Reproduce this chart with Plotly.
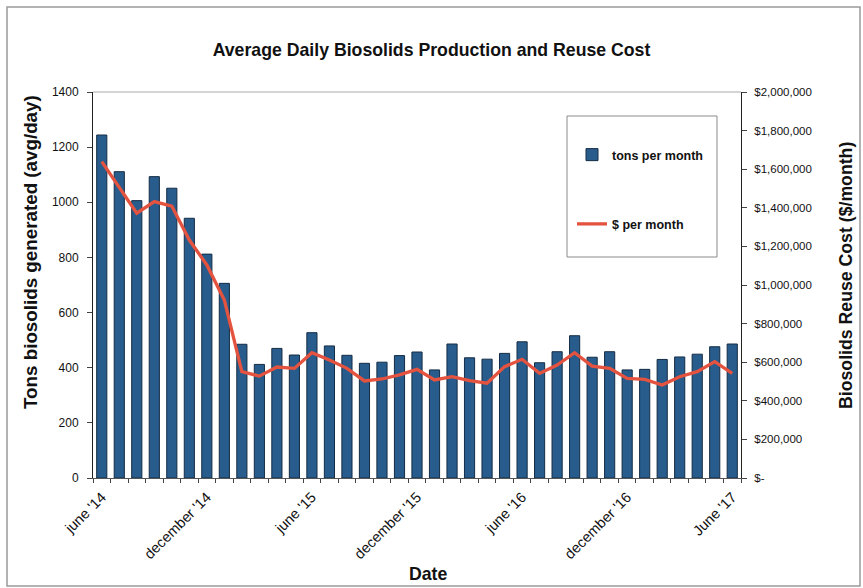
import plotly.graph_objects as go

# Monthly series, June 2014 through June 2017
months = [
    "2014-06", "2014-07", "2014-08", "2014-09", "2014-10", "2014-11", "2014-12",
    "2015-01", "2015-02", "2015-03", "2015-04", "2015-05", "2015-06", "2015-07",
    "2015-08", "2015-09", "2015-10", "2015-11", "2015-12", "2016-01", "2016-02",
    "2016-03", "2016-04", "2016-05", "2016-06", "2016-07", "2016-08", "2016-09",
    "2016-10", "2016-11", "2016-12", "2017-01", "2017-02", "2017-03", "2017-04",
    "2017-05", "2017-06",
]

tons_per_day = [
    1244, 1111, 1006, 1093, 1051, 942, 812, 706, 485, 412, 470, 446, 527, 479,
    445, 416, 420, 444, 457, 392, 486, 436, 431, 452, 494, 418, 458, 516,
    438, 458, 392, 394, 430, 439, 449, 476, 486,
]

cost_per_month = [
    1639000, 1509000, 1372000, 1432000, 1409000, 1233000, 1104000, 922000,
    551000, 528000, 575000, 568000, 649000, 611000, 568000, 503000, 513000,
    534000, 563000, 508000, 525000, 504000, 491000, 577000, 615000, 542000,
    585000, 649000, 580000, 568000, 516000, 511000, 482000, 525000, 551000,
    603000, 542000,
]

# Labelled months on the date axis
label_months = ["2014-06", "2014-12", "2015-06", "2015-12", "2016-06", "2016-12", "2017-06"]
label_text = ["june '14", "december '14", "june '15", "december '15",
              "june '16", "december '16", "June '17"]

left_ticks = [0, 200, 400, 600, 800, 1000, 1200, 1400]
right_ticks = [0, 200000, 400000, 600000, 800000, 1000000, 1200000,
               1400000, 1600000, 1800000, 2000000]

FONT = "Liberation Sans, Arial, sans-serif"
INK = "#111111"
BAR_FILL = "#285c8c"
BAR_EDGE = "#142c44"
LINE_RED = "#e4533f"

x_ticktext = [label_text[label_months.index(m)] if m in label_months else "" for m in months]
right_ticktext = ["$-" if v == 0 else f"${v:,}" for v in right_ticks]

fig = go.Figure()

fig.add_trace(go.Bar(
    x=months, y=tons_per_day, name="tons per month",
    marker=dict(color=BAR_FILL, line=dict(color=BAR_EDGE, width=1)),
    legendgroup="a",
))

fig.add_trace(go.Scatter(
    x=months, y=cost_per_month, name="$ per month", yaxis="y2",
    mode="lines", line=dict(color=LINE_RED, width=3.3),
    legendgroup="b",
))

# pixel -> paper helpers for the annotation / frame placement
PL, PR, PT, PB = 93, 741, 92, 478
def px(x):
    return (x - PL) / (PR - PL)
def py(y):
    return 1 - (y - PT) / (PB - PT)

fig.update_layout(
    width=863, height=588,
    margin=dict(l=PL, r=863 - PR, t=PT, b=588 - PB),
    paper_bgcolor="white", plot_bgcolor="white",
    font=dict(family=FONT, color=INK, size=12),
    bargap=0.42,
    showlegend=True,
    title=dict(
        text="<b>Average Daily Biosolids Production and Reuse Cost</b>",
        x=0.5, xref="container", xanchor="center",
        y=1 - 50 / 588, yref="container", yanchor="middle",
        font=dict(family=FONT, size=17.7, color=INK),
    ),
    xaxis=dict(
        type="category",
        tickmode="array", tickvals=months, ticktext=x_ticktext,
        tickangle=-45, tickson="boundaries",
        ticks="outside", ticklen=4, tickcolor="#444",
        ticklabelstandoff=4,
        tickfont=dict(family=FONT, size=14.5, color=INK),
        showline=True, linecolor="#555", linewidth=1,
        showgrid=False, zeroline=False,
    ),
    yaxis=dict(
        range=[0, 1400], tickmode="array", tickvals=left_ticks,
        ticks="outside", ticklen=5, tickcolor="#444",
        ticklabelstandoff=6,
        tickfont=dict(family=FONT, size=12, color=INK),
        showline=True, linecolor="#222", linewidth=1,
        showgrid=False, zeroline=False,
    ),
    yaxis2=dict(
        range=[0, 2000000], overlaying="y", side="right",
        tickmode="array", tickvals=right_ticks, ticktext=right_ticktext,
        ticks="outside", ticklen=5, tickcolor="#444",
        ticklabelstandoff=5,
        tickfont=dict(family=FONT, size=11.5, color=INK),
        showline=True, linecolor="#222", linewidth=1,
        showgrid=False, zeroline=False,
    ),
    legend=dict(
        x=px(572), y=py(140), xanchor="left", yanchor="top",
        bgcolor="rgba(0,0,0,0)", borderwidth=0,
        tracegroupgap=50,
        font=dict(family=FONT, size=12.5, color=INK, weight="bold"),
    ),
)

annotations = [
    dict(text="<b>Tons biosolids generated (avg/day)</b>", textangle=-90,
         xref="paper", yref="paper", x=px(31), y=py(252),
         xanchor="center", yanchor="middle", showarrow=False,
         font=dict(family=FONT, size=18.8, color=INK)),
    dict(text="<b>Biosolids Reuse Cost ($/month)</b>", textangle=-90,
         xref="paper", yref="paper", x=px(846), y=py(276),
         xanchor="center", yanchor="middle", showarrow=False,
         font=dict(family=FONT, size=17.7, color=INK)),
    dict(text="<b>Date</b>",
         xref="paper", yref="paper", x=px(428), y=py(574),
         xanchor="center", yanchor="middle", showarrow=False,
         font=dict(family=FONT, size=17.7, color=INK)),
]
fig.update_layout(annotations=annotations)

shapes = [
    # outer chart frame
    dict(type="rect", xref="paper", yref="paper",
         x0=px(7), x1=px(860), y0=py(586), y1=py(7),
         line=dict(color="#9a9a9a", width=1.5), layer="below"),
    # top edge of the plot area
    dict(type="line", xref="paper", yref="paper",
         x0=0, x1=1, y0=1, y1=1, line=dict(color="#aaaaaa", width=1)),
    # legend box
    dict(type="rect", xref="paper", yref="paper",
         x0=px(567), x1=px(717), y0=py(257), y1=py(116),
         line=dict(color="#8a8a8a", width=1), layer="below"),
]
fig.update_layout(shapes=shapes)

fig.write_html("out.html")
